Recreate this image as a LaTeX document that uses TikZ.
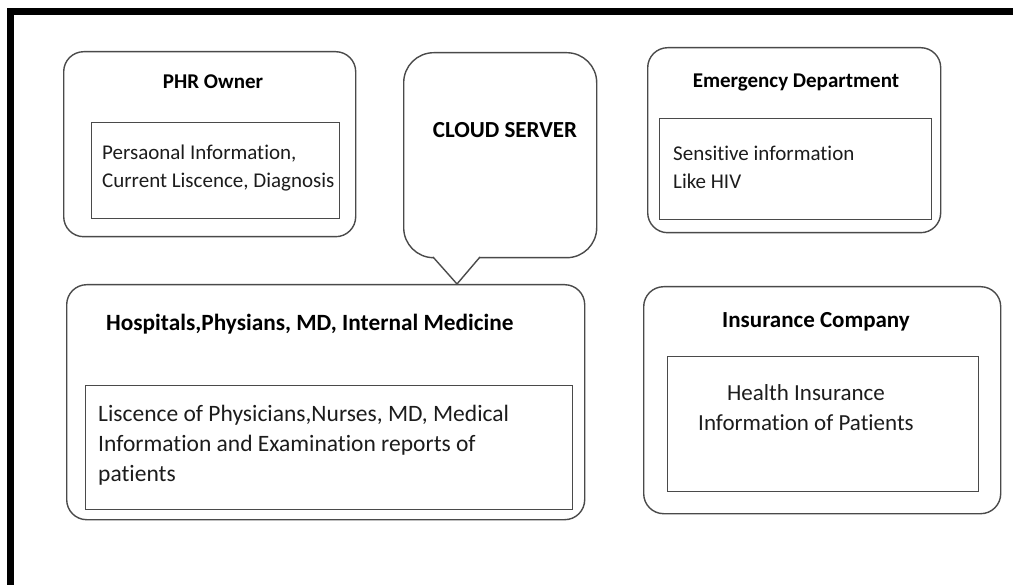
\documentclass[tikz,border=0pt]{standalone}
\usepackage{fontspec}
\setmainfont{Carlito}[Ligatures=NoCommon]
\usepackage{xcolor}
\usepackage{tikz}
\usetikzlibrary{positioning}
\definecolor{boxgray}{HTML}{4A4A4A}
\definecolor{inkblack}{HTML}{1C1C1C}

\begin{document}
\begin{tikzpicture}[x=1pt,y=-1pt,
    outerbox/.style={draw=boxgray,line width=1.4pt,rounded corners=20pt,anchor=north west,inner sep=0pt},
    innerbox/.style={draw=boxgray,line width=1.4pt,anchor=north west,inner sep=0pt},
    headtext/.style={inner sep=0pt,text=black,font=\fontsize{21}{25}\selectfont\bfseries},
    bodytext/.style={inner sep=0pt,text=inkblack,align=left,font=\fontsize{21}{28}\selectfont}]
    \useasboundingbox (0,0) rectangle (1013,585);
    % frame, only top and left edges
    \draw[line width=7pt,line join=miter] (1013,11.5) -- (10.5,11.5) -- (10.5,585);
    % PHR owner
    \node[outerbox,minimum width=292pt,minimum height=185pt] (phr) at (63,51) {};
    \node[innerbox,minimum width=248pt,minimum height=96pt] (phrdata) at (91,122) {};
    \node[headtext] (phrtitle) at (213,82) {PHR Owner};
    \node[bodytext,anchor=west] (phrtext) at (102,168) {Persaonal Information,\\Current Liscence, Diagnosis};
    % cloud server callout
    \node[draw=boxgray,line width=1.4pt,rounded corners=30pt,anchor=north west,inner sep=0pt,
      minimum width=193pt,minimum height=205pt] (cloud) at (403,52) {};
    \node[headtext,font=\fontsize{23}{27}\selectfont\bfseries] (cloudtitle) at (505,130) {CLOUD SERVER};
    \coordinate (cloudtip) at (457,284);
    \fill[white] (434,254) rectangle (479,260);
    \draw[boxgray,line width=1.4pt,line join=miter] (433,257) -- (cloudtip) -- (480,257);
    % emergency department
    \node[outerbox,minimum width=293pt,minimum height=185pt] (emerg) at (647,47) {};
    \node[innerbox,minimum width=272pt,minimum height=101pt] (emergdata) at (659,118) {};
    \node[headtext] (emergtitle) at (796,82) {Emergency Department};
    \node[bodytext,anchor=west] (emergtext) at (673,167) {Sensitive information\\Like HIV};
    % hospitals
    \node[outerbox,minimum width=518pt,minimum height=235pt] (hosp) at (66,284) {};
    \node[innerbox,minimum width=487pt,minimum height=124pt] (hospdata) at (85,385) {};
    \node[headtext,anchor=west,font=\fontsize{23.3}{27}\selectfont\bfseries] (hosptitle) at (106,324)
      {Hospitals,Physians, MD, Internal Medicine};
    \node[bodytext,anchor=west,font=\fontsize{23.5}{30}\selectfont] (hosptext) at (98,445)
      {Liscence of Physicians,Nurses, MD, Medical\\Information and Examination reports of\\patients};
    % insurance company
    \node[outerbox,minimum width=357pt,minimum height=227pt] (insur) at (643,286) {};
    \node[innerbox,minimum width=311pt,minimum height=135pt] (insurdata) at (667,356) {};
    \node[headtext,font=\fontsize{23}{27}\selectfont\bfseries] (insurtitle) at (816,322) {Insurance Company};
    \node[bodytext,align=center,font=\fontsize{23}{30}\selectfont] (insurtext) at (806,408)
      {Health Insurance\\Information of Patients};
\end{tikzpicture}
\end{document}
